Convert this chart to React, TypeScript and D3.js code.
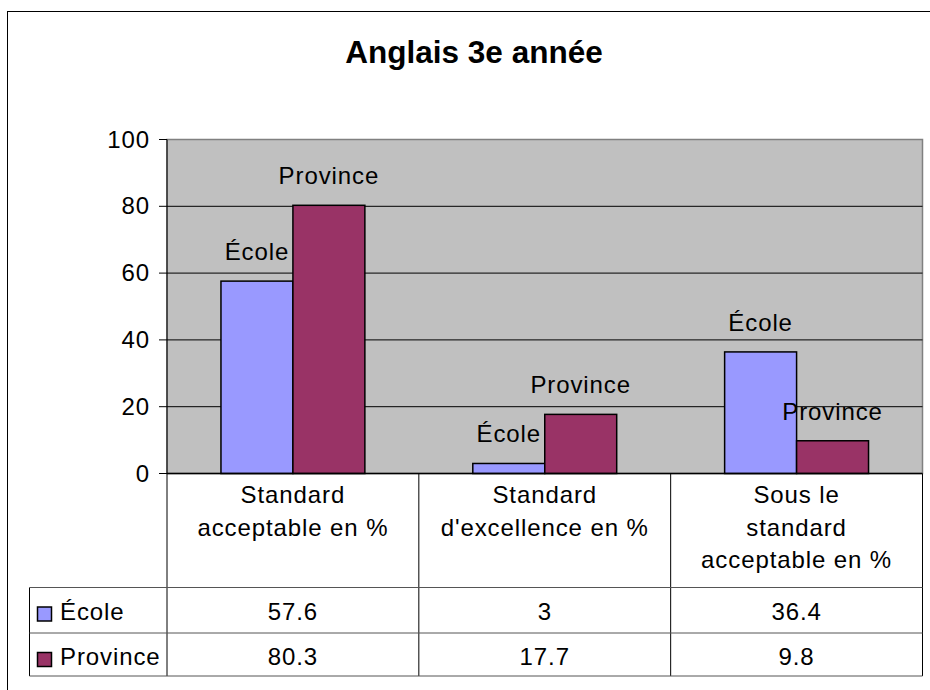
import * as d3 from "d3";

// chart data
const title = "Anglais 3e année";
const categoryLines = [
  ["Standard", "acceptable en %"],
  ["Standard", "d'excellence en %"],
  ["Sous le", "standard", "acceptable en %"],
];
const seriesNames = ["École", "Province"];
const ecoleValues = [57.6, 3, 36.4];
const provinceValues = [80.3, 17.7, 9.8];
const seriesColors = ["#9999ff", "#993366"];
const yTicks = [0, 20, 40, 60, 80, 100];

const FONT = "'Liberation Sans', Arial, sans-serif";
const FS = 24;
const LS = 0.9;

export default function App() {
  const width = 930;
  const height = 690;

  // plot area
  const left = 167;
  const right = 922.5;
  const top = 139.5;
  const bottom = 473.5;

  // table rows
  const tableLeft = 29.5;
  const catRowBottom = 587.5;
  const rowBottoms = [633, 676];

  const values = [ecoleValues, provinceValues];
  const catIdx = categoryLines.map((_, i) => i);

  const x = d3.scaleBand<number>().domain(catIdx).range([left, right]).paddingInner(0).paddingOuter(0);
  // excel-style gap width 150%: bars take 2/(2+1.5) of the category
  const gap = x.bandwidth() * (1.5 / 3.5);
  const xs = d3
    .scaleBand<number>()
    .domain([0, 1])
    .range([gap / 2, x.bandwidth() - gap / 2])
    .padding(0);
  const y = d3.scaleLinear().domain([0, 100]).range([bottom, top]);

  const rowTops = [catRowBottom, rowBottoms[0]];

  return (
    <svg
      width={width}
      height={height}
      style={{ position: "absolute", left: 0, top: 0, background: "#fff" }}
      fontFamily={FONT}
    >
      {/* outer chart border */}
      <rect x={7.5} y={11.5} width={940} height={700} fill="#fff" stroke="#000" strokeWidth={1} />

      <text x={474} y={63} textAnchor="middle" fontSize={31.5} fontWeight="bold">
        {title}
      </text>

      {/* plot area */}
      <rect x={left} y={top} width={right - left} height={bottom - top} fill="#c0c0c0" stroke="#808080" strokeWidth={1.5} />

      {yTicks.map((t) => (
        <g key={t}>
          {t > 0 && t < 100 && <line x1={left} x2={right} y1={y(t)} y2={y(t)} stroke="#000" strokeWidth={1} />}
          <line x1={left - 8} x2={left} y1={y(t)} y2={y(t)} stroke="#000" strokeWidth={1} />
          <text x={150} y={y(t) + 8} textAnchor="end" fontSize={FS} letterSpacing={LS}>
            {t}
          </text>
        </g>
      ))}
      <line x1={left} x2={left} y1={top} y2={bottom} stroke="#000" strokeWidth={1} />

      {/* bars */}
      {values.map((vals, s) =>
        vals.map((v, i) => {
          const bx = (x(i) as number) + (xs(s) as number);
          return (
            <rect
              key={`${s}-${i}`}
              x={bx}
              y={y(v)}
              width={xs.bandwidth()}
              height={bottom - y(v)}
              fill={seriesColors[s]}
              stroke="#000"
              strokeWidth={1.5}
            />
          );
        })
      )}
      {values.map((vals, s) =>
        vals.map((v, i) => {
          const cx = (x(i) as number) + (xs(s) as number) + xs.bandwidth() / 2;
          return (
            <text key={`l${s}-${i}`} x={cx} y={y(v) - 21} textAnchor="middle" fontSize={FS} letterSpacing={LS}>
              {seriesNames[s]}
            </text>
          );
        })
      )}
      <line x1={left} x2={right} y1={bottom} y2={bottom} stroke="#000" strokeWidth={1.5} />

      {/* data table */}
      <g stroke="#000" strokeWidth={1}>
        {catIdx.map((i) => (
          <line key={i} x1={(x(i) as number) + x.bandwidth()} x2={(x(i) as number) + x.bandwidth()} y1={bottom} y2={rowBottoms[1]} />
        ))}
        <line x1={left} x2={left} y1={bottom} y2={rowBottoms[1]} />
        <line x1={tableLeft} x2={tableLeft} y1={catRowBottom} y2={rowBottoms[1]} />
        <line x1={tableLeft} x2={right} y1={catRowBottom} y2={catRowBottom} stroke="#555" />
        {rowBottoms.map((rb) => (
          <line key={rb} x1={tableLeft} x2={right} y1={rb} y2={rb} stroke="#555" />
        ))}
      </g>

      {categoryLines.map((lines, i) => (
        <text key={i} textAnchor="middle" fontSize={FS} letterSpacing={LS}>
          {lines.map((ln, k) => (
            <tspan key={k} x={(x(i) as number) + x.bandwidth() / 2} y={503 + k * 32.5}>
              {ln}
            </tspan>
          ))}
        </text>
      ))}

      {seriesNames.map((name, s) => (
        <g key={name}>
          <rect x={37.5} y={rowTops[s] + 19.5} width={14} height={14} fill={seriesColors[s]} stroke="#000" strokeWidth={1.5} />
          <text x={60} y={rowTops[s] + 32} fontSize={FS} letterSpacing={LS}>
            {name}
          </text>
          {values[s].map((v, i) => (
            <text key={i} x={(x(i) as number) + x.bandwidth() / 2} y={rowTops[s] + 32} textAnchor="middle" fontSize={FS} letterSpacing={LS}>
              {v}
            </text>
          ))}
        </g>
      ))}
    </svg>
  );
}
